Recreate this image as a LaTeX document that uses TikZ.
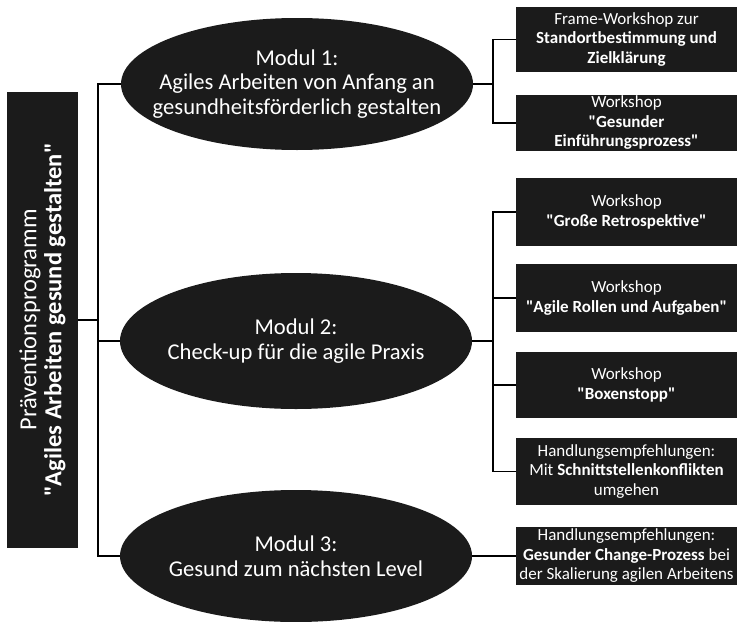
\documentclass[tikz,border=0pt]{standalone}
\usepackage{fontspec}
\setmainfont{Carlito}
\usepackage{xcolor}
\usetikzlibrary{shapes.geometric, positioning, calc}
\definecolor{modblack}{HTML}{1B1B1B}

\begin{document}
\begin{tikzpicture}[
    x=1pt, y=-1pt,
    prog/.style  = {fill=modblack, text=white, minimum width=456pt,
                    minimum height=71pt, inner sep=0pt, align=center,
                    font=\fontsize{24.5}{25}\selectfont, rotate=90},
    modul/.style = {ellipse, fill=modblack, text=white,
                    inner xsep=-70pt, inner ysep=-30pt,
                    minimum width=352pt, align=center,
                    font=\fontsize{22.6}{24.5}\selectfont},
    box/.style   = {fill=modblack, text=white, minimum width=221pt,
                    inner sep=0pt, align=center,
                    font=\fontsize{17}{19.5}\selectfont},
    conn/.style  = {line width=1.4pt, color=black},
  ]
  \useasboundingbox (0,0) rectangle (738,621);

  %% Programme box (rotated)
  \node[prog] (prog) at (42.5,320)
    {Präventionsprogramm\\\textbf{\textquotedbl Agiles Arbeiten gesund gestalten\textquotedbl}};

  %% Modules
  \node[modul, minimum height=132pt] (m1) at (297,84)
    {Modul 1:\\Agiles Arbeiten von Anfang an\\gesundheitsförderlich gestalten};
  \node[modul, minimum height=136pt] (m2) at (296,341)
    {Modul 2:\\Check-up für die agile Praxis};
  \node[modul, minimum height=132pt] (m3) at (296,556)
    {Modul 3:\\Gesund zum nächsten Level};

  %% Workshops, Modul 1
  \node[box, minimum height=65pt] (b1) at (626.5,39.5)
    {Frame-Workshop zur\\\textbf{Standortbestimmung und}\\\textbf{Zielklärung}};
  \node[box, minimum height=56pt] (b2) at (626.5,123)
    {Workshop\\\textbf{\textquotedbl Gesunder}\\\textbf{Einführungsprozess\textquotedbl}};

  %% Workshops, Modul 2
  \node[box, minimum height=68pt] (b3) at (626.5,212)
    {Workshop\\\textbf{\textquotedbl Große Retrospektive\textquotedbl}};
  \node[box, minimum height=68pt] (b4) at (626.5,298)
    {Workshop\\\textbf{\textquotedbl Agile Rollen und Aufgaben\textquotedbl}};
  \node[box, minimum height=66pt] (b5) at (626.5,385)
    {Workshop\\\textbf{\textquotedbl Boxenstopp\textquotedbl}};
  \node[box, minimum height=67pt] (b6) at (626.5,471.5)
    {Handlungsempfehlungen:\\Mit \textbf{Schnittstellenkonflikten}\\umgehen};

  %% Modul 3
  \node[box, minimum height=58pt] (b7) at (626.5,556)
    {Handlungsempfehlungen:\\\textbf{Gesunder Change-Prozess} bei\\der Skalierung agilen Arbeitens};

  %% Left bracket
  \coordinate (lsp) at (98,320);
  \draw[conn] (prog.south) -- (lsp);
  \draw[conn] (m1.west) -| (lsp) |- (m3.west);
  \draw[conn] (lsp |- m2.west) -- (m2.west);

  %% Right brackets
  \coordinate (r1) at (493,84);
  \draw[conn] (m1.east) -- (r1);
  \draw[conn] (b1.west) -| (r1) |- (b2.west);

  \coordinate (r2) at (493,341);
  \draw[conn] (m2.east) -- (r2);
  \draw[conn] (b3.west) -| (r2) |- (b6.west);
  \draw[conn] (r2 |- b4.west) -- (b4.west);
  \draw[conn] (r2 |- b5.west) -- (b5.west);

  \draw[conn] (m3.east) -- (b7.west);

\end{tikzpicture}
\end{document}
